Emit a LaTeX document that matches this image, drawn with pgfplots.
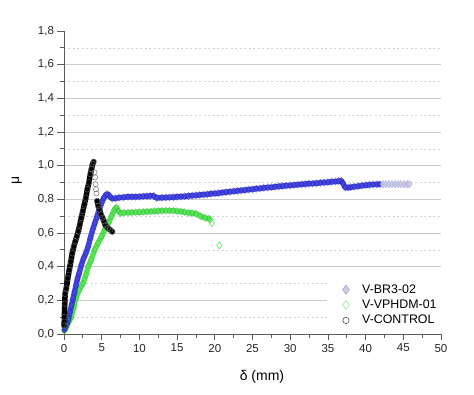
\documentclass[border=0pt]{standalone}
\usepackage{fontspec}
\setmainfont{Liberation Sans}
\usepackage{pgfplots}
\usepackage{pgfplotstable}
\pgfplotsset{compat=1.18}
\definecolor{cblue}{RGB}{50,50,228}
\definecolor{cgreen}{RGB}{70,228,70}
\definecolor{lblue}{RGB}{160,160,235}
\definecolor{lgray}{RGB}{208,208,216}
\definecolor{lgreen}{RGB}{150,236,150}
\definecolor{axgray}{RGB}{90,90,90}

\pgfplotstableread{
x y
0.05 0.025
0.2 0.04
0.4 0.06
0.6 0.09
0.8 0.13
1.0 0.17
1.2 0.21
1.4 0.25
1.6 0.29
1.8 0.33
2.0 0.36
2.3 0.41
2.6 0.45
2.9 0.48
3.2 0.52
3.5 0.57
3.8 0.62
4.1 0.66
4.4 0.70
4.7 0.745
5.0 0.78
5.3 0.81
5.6 0.83
5.85 0.83
6.1 0.815
6.4 0.805
6.8 0.806
7.3 0.81
7.9 0.812
8.5 0.815
9.0 0.815
9.5 0.815
10.0 0.816
10.5 0.818
11.0 0.819
11.4 0.82
11.9 0.82
12.3 0.808
13.0 0.81
13.5 0.811
14.0 0.812
14.5 0.813
15.0 0.815
15.5 0.816
16.0 0.818
16.5 0.82
17.0 0.822
17.5 0.824
18.0 0.826
18.5 0.828
19.0 0.83
19.5 0.833
20.0 0.835
20.5 0.837
21.0 0.84
21.5 0.843
22.0 0.845
22.5 0.848
23.0 0.85
23.5 0.853
24.0 0.855
24.5 0.858
25.0 0.86
25.5 0.863
26.0 0.865
26.5 0.868
27.0 0.87
27.5 0.872
28.0 0.874
28.5 0.877
29.0 0.879
29.5 0.881
30.0 0.883
30.5 0.885
31.0 0.887
31.5 0.889
32.0 0.891
32.5 0.893
33.0 0.894
33.5 0.896
34.0 0.898
34.5 0.900
35.0 0.902
35.5 0.904
36.0 0.906
36.4 0.908
36.8 0.91
37.0 0.895
37.3 0.869
37.7 0.870
38.0 0.872
38.5 0.875
39.0 0.878
39.5 0.881
40.0 0.884
40.5 0.886
41.0 0.888
41.5 0.889
41.9 0.89
}\brdense

\pgfplotstableread{
x y
42.3 0.89
42.7 0.89
43.1 0.89
43.5 0.89
43.9 0.89
44.3 0.89
44.7 0.89
45.1 0.89
45.5 0.89
45.8 0.89
}\brsparse

\pgfplotstableread{
x y
0.05 0.02
0.3 0.04
0.6 0.07
0.97 0.10
1.3 0.16
1.64 0.22
2.0 0.26
2.5 0.30
2.9 0.35
3.2 0.40
3.6 0.44
4.07 0.50
4.5 0.54
5.0 0.58
5.4 0.62
5.9 0.66
6.3 0.70
6.7 0.74
6.95 0.752
7.2 0.73
7.5 0.717
8.0 0.72
8.5 0.721
9.0 0.722
9.5 0.723
10.0 0.724
10.5 0.725
11.0 0.727
11.5 0.728
12.0 0.73
12.5 0.731
13.0 0.732
13.5 0.733
14.0 0.733
14.5 0.732
15.0 0.730
15.5 0.728
16.0 0.724
16.5 0.72
17.0 0.718
17.5 0.715
18.1 0.70
18.7 0.69
19.2 0.685
}\vpdense

\pgfplotstableread{
x y
19.4 0.68
19.6 0.66
20.6 0.527
}\vpsparse

\pgfplotstableread{
x y
0.02 0.05
0.05 0.10
0.1 0.18
0.15 0.24
0.3 0.27
0.5 0.33
0.7 0.38
0.9 0.43
1.1 0.48
1.3 0.52
1.5 0.55
1.7 0.58
1.9 0.61
2.1 0.65
2.3 0.69
2.5 0.73
2.7 0.77
2.9 0.81
3.1 0.86
3.3 0.90
3.5 0.95
3.65 0.98
3.8 1.01
3.93 1.023
}\ctrlup

\pgfplotstableread{
x y
4.05 0.96
4.12 0.93
4.18 0.89
4.25 0.86
4.3 0.835
}\ctrlsparse

\pgfplotstableread{
x y
4.4 0.79
4.55 0.76
4.7 0.74
4.9 0.71
5.1 0.69
5.3 0.67
5.5 0.645
5.8 0.63
6.1 0.62
6.4 0.608
}\ctrldown

\begin{document}
\begin{tikzpicture}[x=1pt,y=1pt]
\useasboundingbox (-64,-61) rectangle (410,334);
\begin{axis}[
  at={(0,0)}, anchor=south west,
  scale only axis, width=377pt, height=303pt,
  xmin=0, xmax=50, ymin=0, ymax=1.8,
  axis x line*=bottom, axis y line*=left,
  axis line style={-, draw=axgray, line width=0.8pt},
  xtick={0,5,10,15,20,25,30,35,40,45,50},
  minor xtick={2.5,7.5,12.5,17.5,22.5,27.5,32.5,37.5,42.5,47.5},
  ytick={0,0.2,0.4,0.6,0.8,1.0,1.2,1.4,1.6},
  extra y ticks={1.8},
  extra y tick style={grid=none},
  minor ytick={0.1,0.3,0.5,0.7,0.9,1.1,1.3,1.5,1.7},
  ymajorgrids, yminorgrids,
  major grid style={draw=black!20, line width=0.7pt},
  minor grid style={draw=black!18, line width=0.6pt, dash pattern=on 2pt off 2.5pt},
  tick align=outside,
  major tick length=6.5pt, minor tick length=4pt,
  every tick/.style={draw=axgray, line width=0.8pt},
  /pgf/number format/assume math mode=true,
  tick label style={font=\fontsize{11.5}{13}\selectfont, text=black!85},
  yticklabel style={/pgf/number format/.cd, fixed, fixed zerofill, precision=1, use comma},
  xticklabel style={/pgf/number format/.cd, fixed, precision=0},
  xlabel={δ (mm)}, ylabel={μ},
  xlabel style={at={(axis description cs:0.525,-0.142)}, anchor=center, font=\fontsize{14}{16}\selectfont},
  ylabel style={at={(axis description cs:-0.125,0.508)}, anchor=center, font=\fontsize{14}{16}\selectfont},
  legend style={at={(axis cs:34.8,0.322)}, anchor=north west, fill=white, draw=none,
    font=\fontsize{12.4}{13}\selectfont, inner xsep=16pt, inner ysep=2pt,
    nodes={inner ysep=2.6pt, inner xsep=2pt}},
  legend cell align=left,
  clip=false,
]
\addlegendimage{legend image code/.code={\path (0pt,0pt) (17pt,0pt); \draw[mark=diamond*, mark size=4.5pt, mark options={fill=lgray, draw=lblue, line width=0.6pt}] plot coordinates {(3pt,0pt)};}}
\addlegendentry{V-BR3-02}
\addlegendimage{legend image code/.code={\path (0pt,0pt) (17pt,0pt); \draw[mark=diamond, mark size=4.5pt, mark options={draw=lgreen, line width=0.6pt}] plot coordinates {(3pt,0pt)};}}
\addlegendentry{V-VPHDM-01}
\addlegendimage{legend image code/.code={\path (0pt,0pt) (17pt,0pt); \draw[mark=o, mark size=3.2pt, mark options={draw=black!70, line width=0.6pt}] plot coordinates {(3pt,0pt)};}}
\addlegendentry{V-CONTROL}

% green
\addplot[forget plot, draw=cgreen, line width=5.5pt, line join=round, line cap=round, opacity=0.9] table {\vpdense};
\addplot[forget plot, only marks, mark=diamond, mark size=3.6pt, mark options={draw=cgreen!75!black, line width=0.4pt, opacity=0.6}] table {\vpdense};
\addplot[forget plot, only marks, mark=diamond, mark size=3.6pt, mark options={draw=cgreen, line width=0.5pt}] table {\vpsparse};
% blue
\addplot[forget plot, draw=cblue, line width=5.5pt, line join=round, line cap=round, opacity=0.9] table {\brdense};
\addplot[forget plot, only marks, mark=diamond, mark size=3.6pt, mark options={draw=cblue!70!black, line width=0.4pt, opacity=0.6}] table {\brdense};
\addplot[forget plot, only marks, mark=diamond*, mark size=3.6pt, mark options={fill=lgray, draw=lblue, line width=0.5pt, opacity=0.85}] table {\brsparse};
% black
\addplot[forget plot, draw=black, line width=5.5pt, line join=round, line cap=round] table {\ctrlup};
\addplot[forget plot, only marks, mark=o, mark size=2.9pt, mark options={draw=black!60, line width=0.4pt}] table {\ctrlup};
\addplot[forget plot, only marks, mark=o, mark size=2.6pt, mark options={draw=black!55, line width=0.5pt, fill=white}] table {\ctrlsparse};
\addplot[forget plot, draw=black, line width=5.5pt, line join=round, line cap=round] table {\ctrldown};
\addplot[forget plot, only marks, mark=o, mark size=2.9pt, mark options={draw=black!60, line width=0.4pt}] table {\ctrldown};
\end{axis}
\end{tikzpicture}
\end{document}
